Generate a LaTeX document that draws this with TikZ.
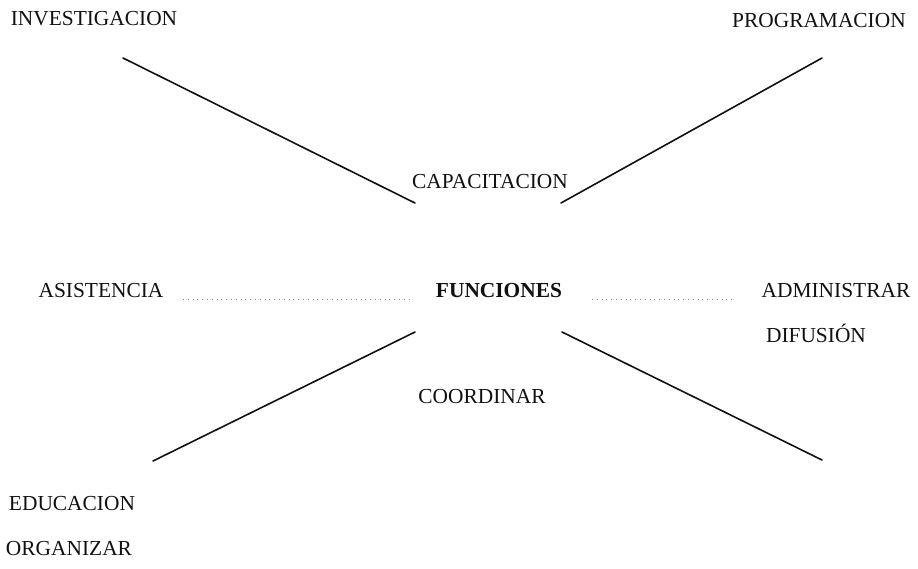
\documentclass[tikz,border=0pt]{standalone}
\usepackage{fontspec}
\setmainfont{Liberation Serif}
\usepackage{xcolor}
\definecolor{Ink}{HTML}{111111}
\definecolor{Dots}{HTML}{8A8A8A}
\tikzset{
  lbl/.style={anchor=base,inner sep=0pt,text=Ink,font=\fontsize{10.7}{13}\selectfont},
  hub/.style={lbl,font=\fontsize{10.7}{13}\selectfont\bfseries},
  ray/.style={draw=Ink,line width=0.8pt,line cap=round},
  dots/.style={draw=Dots,line width=0.4pt,dotted}
}

\begin{document}
\begin{tikzpicture}[x=0.5pt,y=-0.5pt]
    \useasboundingbox (0,0) rectangle (918,569);

    \node[lbl] (inv) at (94,25) {INVESTIGACION};
    \node[lbl] (prog) at (819,27) {PROGRAMACION};
    \node[lbl] (cap) at (490,188) {CAPACITACION};
    \node[lbl] (asis) at (101,297) {ASISTENCIA};
    \node[hub] (fun) at (499,297) {FUNCIONES};
    \node[lbl] (adm) at (836,297) {ADMINISTRAR};
    \node[lbl] (dif) at (816,342) {DIFUSIÓN};
    \node[lbl] (coord) at (482,403) {COORDINAR};
    \node[lbl] (edu) at (72,510) {EDUCACION};
    \node[lbl] (org) at (69,555) {ORGANIZAR};

    \coordinate (tl) at (123,58);
    \coordinate (tlc) at (415,203);
    \coordinate (tr) at (822,58);
    \coordinate (trc) at (561,203);
    \coordinate (bl) at (153,461);
    \coordinate (blc) at (415,332);
    \coordinate (br) at (822,460);
    \coordinate (brc) at (562,332);
    \coordinate (dl1) at (183,299);
    \coordinate (dl2) at (413,299);
    \coordinate (dr1) at (592,299);
    \coordinate (dr2) at (735,299);

    \draw[ray] (tl) -- (tlc);
    \draw[ray] (tr) -- (trc);
    \draw[ray] (bl) -- (blc);
    \draw[ray] (br) -- (brc);

    \draw[dots] (dl1) -- (dl2);
    \draw[dots] (dr1) -- (dr2);
\end{tikzpicture}
\end{document}
